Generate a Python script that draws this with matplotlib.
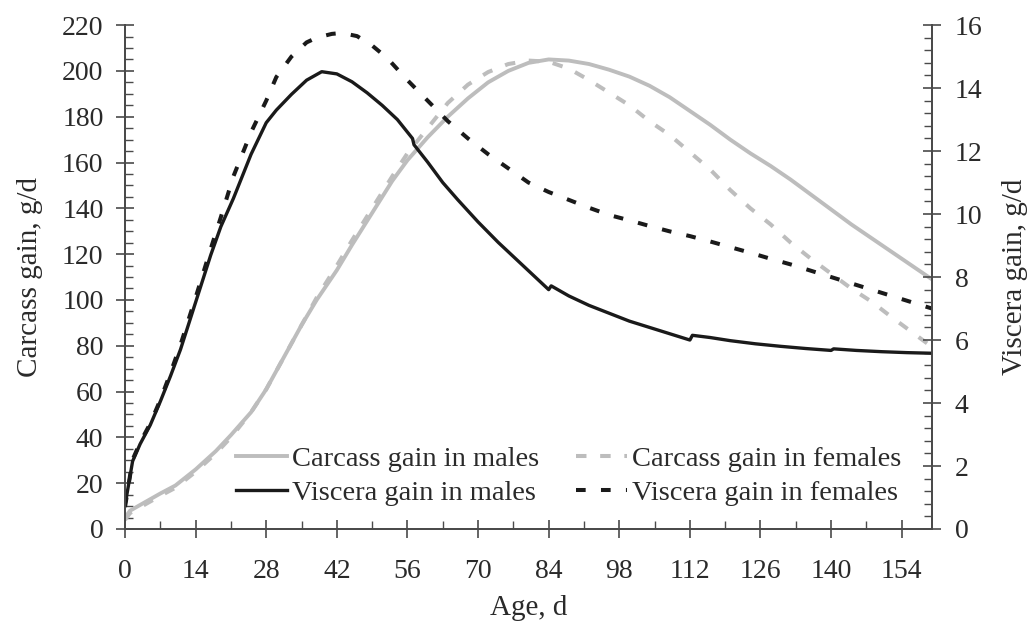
import matplotlib
matplotlib.use("Agg")
import matplotlib.pyplot as plt
from matplotlib.ticker import MultipleLocator

# Carcass gain, g/d (left axis)
carcass_age = [0, 1, 3, 5, 7, 10, 14, 18, 21, 25, 28, 32, 35, 38, 42, 45, 49, 53, 56,
               60, 64, 68, 72, 76, 80, 84, 88, 92, 96, 100, 104, 108, 112, 116, 120,
               124, 128, 132, 136, 140, 144, 148, 152, 156, 160]
carcass_males = [5, 8, 10.5, 13, 15.5, 19, 26, 34, 41, 51, 61, 77, 89, 100, 113, 124, 138,
                 152, 161, 171, 180, 188, 195, 200, 203.5, 205, 204.5, 203, 200.5, 197.5,
                 193.5, 188.5, 182.5, 176.5, 170, 164, 158.5, 152.5, 146, 139.5, 133,
                 127, 121, 115, 109]
carcass_females = [4, 7, 9.5, 12, 14.5, 18, 25, 33, 40, 51, 61, 77, 89, 101, 115, 126, 140,
                   154, 164, 175, 186, 194, 199.5, 203, 204.5, 204, 201, 196, 190.5, 185,
                   178, 172, 164.5, 157, 148, 140, 133, 125, 118, 111.5, 105, 99.3, 92.5,
                   86, 79.5]

# Viscera gain, g/d (right axis)
visc_m_age = [0, 1.5, 3, 5, 7, 9, 11, 14, 17, 19, 21.5, 25, 28, 30, 33, 36, 39, 42, 45,
              48, 51, 54, 57, 57.3, 60, 63, 66, 70, 74, 78, 82, 84, 84.5, 88, 92, 96, 100,
              104, 108, 112, 112.5, 116, 120, 125, 130, 135, 140, 140.5, 145, 150, 155, 160]
viscera_males = [0.75, 2.15, 2.7, 3.3, 4.05, 4.85, 5.7, 7.2, 8.7, 9.6, 10.5, 11.9, 12.9, 13.3,
                 13.8, 14.25, 14.52, 14.45, 14.2, 13.85, 13.45, 13.0, 12.4, 12.2,
                 11.65, 11.0, 10.45, 9.75, 9.1, 8.5, 7.9, 7.6, 7.72, 7.4, 7.1, 6.85, 6.6, 6.4,
                 6.2, 6.0, 6.15, 6.08, 5.98, 5.88, 5.8, 5.73, 5.67, 5.72, 5.67, 5.63, 5.6, 5.58]
visc_f_age = [0, 1.5, 3, 5, 7, 9, 11, 14, 17, 19, 21.5, 25, 28, 30, 33, 36, 38, 41, 43, 46,
              49, 52, 56, 60, 64, 68, 72, 76, 80, 84, 88, 92, 96, 100, 104, 108, 112, 116,
              120, 124, 128, 132, 136, 140, 144, 148, 152, 156, 160]
viscera_females = [0.7, 2.2, 2.75, 3.35, 4.1, 4.95, 5.85, 7.35, 8.9, 9.9, 11.2, 12.6, 13.6,
                   14.35, 15.0, 15.45, 15.6, 15.72, 15.75, 15.65, 15.35, 14.95, 14.25, 13.6,
                   12.95, 12.4, 11.9, 11.45, 11.0, 10.7, 10.45, 10.2, 9.97, 9.8, 9.62, 9.45,
                   9.3, 9.13, 8.95, 8.77, 8.58, 8.4, 8.2, 8.0, 7.8, 7.6, 7.4, 7.2, 7.0]

plt.rcParams['font.family'] = ['Liberation Serif', 'DejaVu Serif']
plt.rcParams['font.size'] = 20
txt = '#2a2a2a'
axc = '#4a4a4a'
gray = '#bdbdbd'

fig = plt.figure(figsize=(10.29, 6.27), dpi=100)
ax = fig.add_axes([0.1215, 0.1563, 0.7842, 0.8037])
ax2 = ax.twinx()

l1, = ax.plot(carcass_age, carcass_males, color=gray, lw=2.8, solid_joinstyle='round')
l3, = ax.plot(carcass_age, carcass_females, color=gray, lw=2.9, dashes=(2.6, 3.4))
l2, = ax2.plot(visc_m_age, viscera_males, color='#1a1a1a', lw=2.4, solid_joinstyle='round')
l4, = ax2.plot(visc_f_age, viscera_females, color='#1a1a1a', lw=2.9, dashes=(2.4, 3.8))

ax.set_xlim(0, 160)
ax.set_ylim(0, 220)
ax2.set_ylim(0, 16)
ax.xaxis.set_major_locator(MultipleLocator(14))
ax.xaxis.set_minor_locator(MultipleLocator(7))
ax.yaxis.set_major_locator(MultipleLocator(20))
ax.yaxis.set_minor_locator(MultipleLocator(5))
ax2.yaxis.set_major_locator(MultipleLocator(2))
ax2.yaxis.set_minor_locator(MultipleLocator(0.4))

for a in (ax, ax2):
    a.spines['top'].set_visible(False)
    for s in ('left', 'right', 'bottom'):
        a.spines[s].set_color(axc)
        a.spines[s].set_linewidth(1.3)
    a.tick_params(which='major', direction='inout', length=13, width=1.2,
                  color=axc, labelcolor=txt, labelsize=20)
    a.tick_params(which='minor', direction='in', length=6, width=1.0, color=axc)
ax.tick_params(axis='x', pad=15)
ax.tick_params(axis='y', pad=9)
ax2.tick_params(axis='y', pad=10)

ax.set_xlabel('Age, d', color=txt, fontsize=21, labelpad=8)
ax.set_ylabel('Carcass gain, g/d', color=txt, fontsize=21, labelpad=14)
ax2.set_ylabel('Viscera gain, g/d', color=txt, fontsize=21, rotation=90, labelpad=14)

leg = ax2.legend([l1, l2, l3, l4],
                 ['Carcass gain in males', 'Viscera gain in males',
                  'Carcass gain in females', 'Viscera gain in females'],
                 ncol=2, loc='lower left', bbox_to_anchor=(0.137, 0.045),
                 frameon=False, fontsize=20.5, handlelength=1.8, handletextpad=0.18,
                 columnspacing=1.3, labelspacing=0.3, borderpad=0, borderaxespad=0)
for t in leg.get_texts():
    t.set_color(txt)

fig.savefig('out.png', dpi=100)
